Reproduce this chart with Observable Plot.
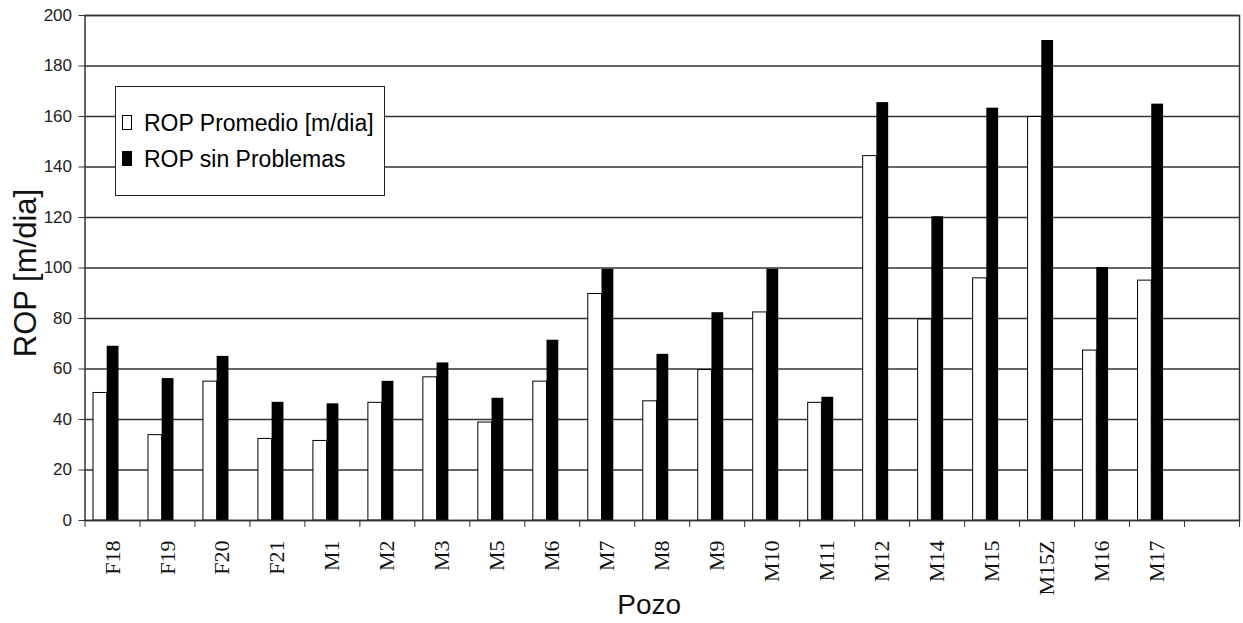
<!DOCTYPE html>
<html>
<head>
<meta charset="utf-8">
<script src="https://cdn.jsdelivr.net/npm/d3@7"></script>
<script src="https://cdn.jsdelivr.net/npm/@observablehq/plot@0.6"></script>
<style>
  body { margin: 0; background: #fff; }
  #wrap { position: relative; width: 1243px; height: 623px; overflow: hidden; }
  #legend { position: absolute; left: 115px; top: 86px; width: 270px; height: 110px;
            box-sizing: border-box; border: 1.5px solid #222; background: #fff;
            font-family: "Liberation Sans", Arial, sans-serif; font-size: 23px; color: #000; }
  .txt { position: absolute; left: 28px; height: 26px; line-height: 26px; white-space: nowrap; }
  .sw { position: absolute; left: 6px; width: 10px; height: 15px; box-sizing: border-box; border: 1px solid #000; }
</style>
</head>
<body>
<div id="wrap"></div>
<script>
// ---- data ----
const pozos = ["F18","F19","F20","F21","M1","M2","M3","M5","M6","M7","M8","M9","M10","M11","M12","M14","M15","M15Z","M16","M17"];
const promedio = [50.5,33.8,55.0,32.3,31.5,46.6,56.7,38.8,55.0,89.7,47.2,59.6,82.4,46.6,144.3,79.6,95.9,159.8,67.3,95.0];
const sinProblemas = [69.0,56.2,65.0,46.8,46.2,55.1,62.4,48.4,71.4,99.5,65.8,82.3,99.5,48.8,165.5,120.3,163.3,190.1,100.2,164.9];
const seriesNames = ["ROP Promedio [m/dia]", "ROP sin Problemas"];
const yTicks = [0,20,40,60,80,100,120,140,160,180,200];
const xDomain = [...pozos, ""];

const promData = pozos.map((p, i) => ({pozo: p, v: promedio[i]}));
const sinData = pozos.map((p, i) => ({pozo: p, v: sinProblemas[i]}));

const band = (1239 - 84.5) / xDomain.length;

const chart = Plot.plot({
  width: 1243,
  height: 623,
  marginLeft: 84.5,
  marginRight: 4,
  marginTop: 15,
  marginBottom: 103,
  style: {background: "#fff"},
  x: {domain: xDomain, padding: 0, round: false, axis: null},
  y: {domain: [0, 200], axis: null},
  marks: [
    Plot.gridY(yTicks, {stroke: "#333", strokeOpacity: 1, strokeWidth: 1.5}),
    Plot.barY(promData, {x: "pozo", y: "v", fill: "#fff", stroke: "#000", strokeWidth: 1,
      insetLeft: 8.5, insetRight: band - 22.2}),
    Plot.barY(sinData, {x: "pozo", y: "v", fill: "#000",
      insetLeft: 22.2, insetRight: band - 34}),
    Plot.frame({stroke: "#333", strokeWidth: 1.5}),
    // y axis ticks & labels
    Plot.axisY(yTicks, {anchor: "left", tickSize: 6, tickPadding: 7, label: null,
      fontFamily: "Liberation Sans, Arial, sans-serif", fontSize: 17, fill: "#222", stroke: "#333"}),
    // x tick marks at band boundaries
    Plot.axisX(xDomain, {anchor: "bottom", tickSize: 7, tickFormat: () => "", label: null,
      dx: -band / 2, stroke: "#333"}),
    Plot.axisX([""], {anchor: "bottom", tickSize: 7, tickFormat: () => "", label: null,
      dx: band / 2, stroke: "#333"}),
    // x labels
    Plot.axisX(pozos, {anchor: "bottom", tickSize: 0, tickPadding: 20, tickRotate: -90, label: null,
      fontFamily: "Liberation Serif, Times New Roman, serif", fontSize: 22, fill: "#111"}),
    // axis titles
    Plot.text(["Pozo"], {frameAnchor: "bottom", dx: -13, dy: 93, text: d => d,
      fontFamily: "Liberation Sans, Arial, sans-serif", fontSize: 28, fill: "#111"}),
    Plot.text(["ROP [m/dia]"], {frameAnchor: "left", rotate: -90, dx: -59, dy: 5, textAnchor: "middle",
      text: d => d, fontFamily: "Liberation Sans, Arial, sans-serif", fontSize: 31, fill: "#111"})
  ]
});

const wrap = document.getElementById("wrap");
wrap.appendChild(chart);

// legend
const legend = document.createElement("div");
legend.id = "legend";
const fills = ["#fff", "#000"];
const centers = [35.5, 71.5];
seriesNames.forEach((name, i) => {
  const sw = document.createElement("div");
  sw.className = "sw";
  sw.style.background = fills[i];
  sw.style.top = (centers[i] - 8) + "px";
  legend.appendChild(sw);
  const t = document.createElement("div");
  t.className = "txt";
  t.style.top = (centers[i] - 13) + "px";
  t.textContent = name;
  legend.appendChild(t);
});
wrap.appendChild(legend);
</script>
</body>
</html>
